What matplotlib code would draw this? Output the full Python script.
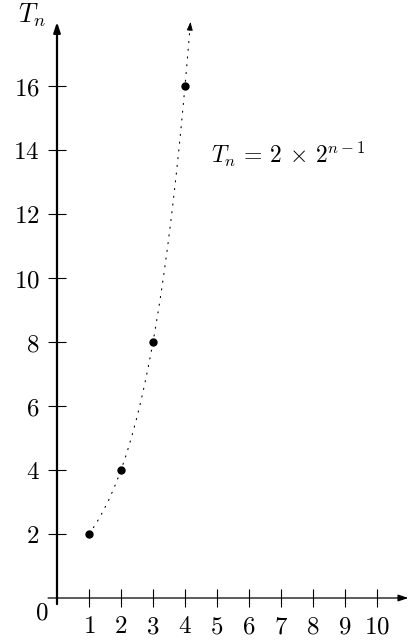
import numpy as np
import matplotlib
matplotlib.use("Agg")
import matplotlib.pyplot as plt

plt.rcParams["mathtext.fontset"] = "cm"
plt.rcParams["font.family"] = ["DejaVu Serif"]

# Terms of the sequence T_n = 2 * 2^(n-1)
n_vals = [1, 2, 3, 4]
t_vals = [2, 4, 8, 16]
x_ticks = [1, 2, 3, 4, 5, 6, 7, 8, 9, 10]
y_ticks = [2, 4, 6, 8, 10, 12, 14, 16]
curve_end = 4.17  # where the dotted curve stops (arrow tip)

fig = plt.figure(figsize=(4.2, 6.42), dpi=100)
ax = fig.add_axes([0, 0, 1, 1])
ax.set_xlim(-57 / 32, 363 / 32)
ax.set_ylim(-44 / 32, 598 / 32)

# dotted curve of the formula with arrowhead
nn = np.linspace(n_vals[0], curve_end, 300)
tt = 2 * 2 ** (nn - 1)
ax.plot(nn, tt, color="k", lw=0.8, linestyle=(0, (1, 6)), dash_capstyle="round")
ax.annotate("", xy=(nn[-1], tt[-1]), xytext=(nn[-3], tt[-3]),
            arrowprops=dict(arrowstyle="-|>,head_length=0.5,head_width=0.18",
                            color="k", lw=0.6, shrinkA=0, shrinkB=0))

ax.plot(n_vals, t_vals, "o", color="k", ms=5, zorder=5)

# axes as arrows
ax.annotate("", xy=(10.98, 0), xytext=(-0.28, 0),
            arrowprops=dict(arrowstyle="-|>,head_length=0.6,head_width=0.2",
                            color="k", lw=0.9, shrinkA=0, shrinkB=0))
ax.annotate("", xy=(0, 18.0), xytext=(0, -0.19),
            arrowprops=dict(arrowstyle="-|>,head_length=0.6,head_width=0.2",
                            color="k", lw=1.6, shrinkA=0, shrinkB=0))

for side in ["top", "right"]:
    ax.spines[side].set_visible(False)
ax.spines["left"].set_position(("data", 0))
ax.spines["bottom"].set_position(("data", 0))
ax.spines["left"].set_color("none")
ax.spines["bottom"].set_color("none")

ax.set_xticks(x_ticks)
ax.set_xticklabels([f"${v}$" for v in x_ticks])
ax.set_yticks(y_ticks)
ax.set_yticklabels([f"${v}$" for v in y_ticks])
ax.tick_params(axis="both", direction="inout", length=13, width=0.8,
               color="k", labelsize=18)
ax.tick_params(axis="x", pad=6)
ax.tick_params(axis="y", pad=6)

ax.text(-0.47, -0.48, "$0$", fontsize=18, ha="center", va="center")
ax.text(-0.78, 18.2, "$T_n$", fontsize=19, ha="center", va="center")
ax.text(4.8, 13.85, r"$T_n \,=\, 2 \,\times\, 2^{n-1}$", fontsize=17,
        ha="left", va="center")

fig.savefig("out.png", dpi=100)
